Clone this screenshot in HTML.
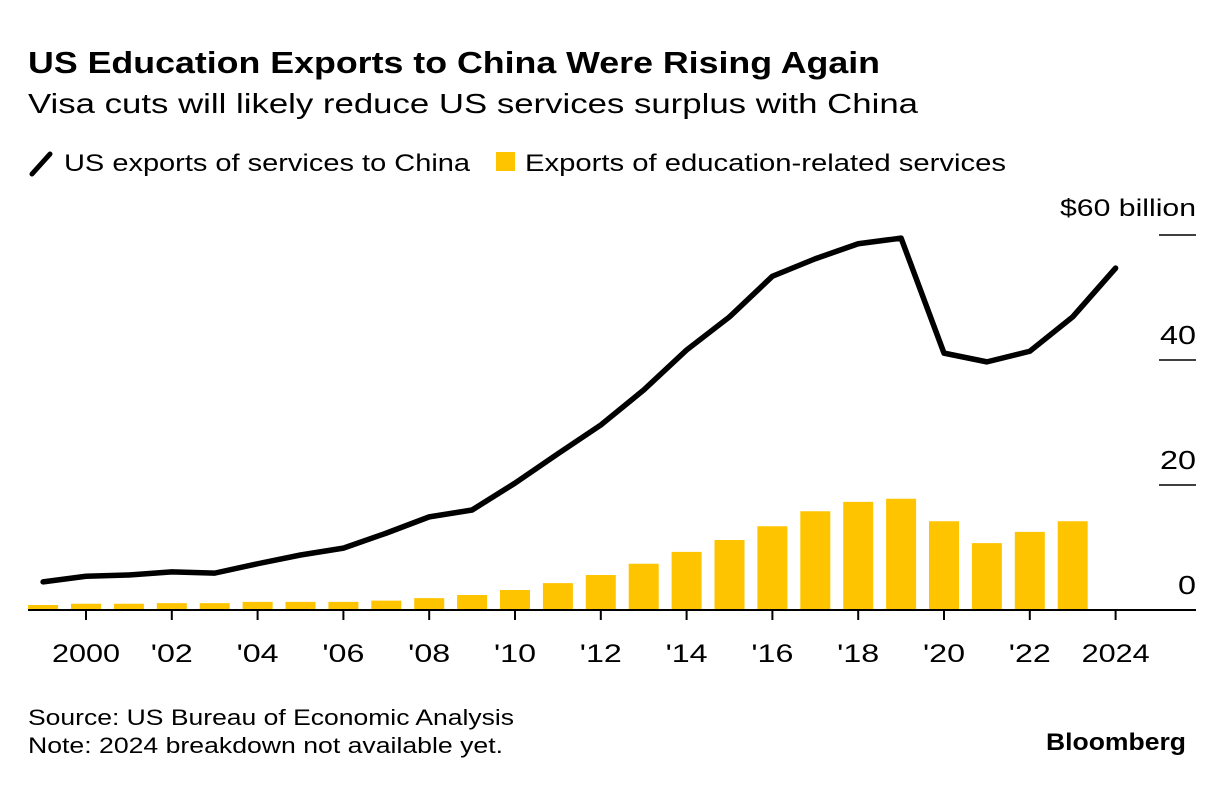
<!DOCTYPE html>
<html><head><meta charset="utf-8"><style>
body{margin:0;background:#fff;width:1224px;height:784px;overflow:hidden;font-family:"Liberation Sans",sans-serif;color:#000}
</style></head><body>
<svg width="1224" height="784" xmlns="http://www.w3.org/2000/svg" font-family="Liberation Sans, sans-serif">
<text x="28" y="73" font-size="31" font-weight="bold" textLength="852" lengthAdjust="spacingAndGlyphs">US Education Exports to China Were Rising Again</text>
<text x="28" y="113" font-size="28" textLength="890" lengthAdjust="spacingAndGlyphs">Visa cuts will likely reduce US services surplus with China</text>
<g>
<line x1="32" y1="174" x2="50" y2="154" stroke="#000" stroke-width="5" stroke-linecap="round"/>
<text x="64" y="171" font-size="24" textLength="406" lengthAdjust="spacingAndGlyphs">US exports of services to China</text>
<rect x="496" y="152" width="19" height="19" fill="#ffc400"/>
<text x="525" y="171" font-size="24" textLength="481" lengthAdjust="spacingAndGlyphs">Exports of education-related services</text>
</g>
<g id="grid"></g><g id="bars"></g><g id="line"></g><g id="xaxis"></g>
<text x="1060" y="216" font-size="24" textLength="136" lengthAdjust="spacingAndGlyphs">$60 billion</text>
<text x="28" y="725" font-size="22" textLength="486" lengthAdjust="spacingAndGlyphs">Source: US Bureau of Economic Analysis</text>
<text x="28" y="753" font-size="22" textLength="475" lengthAdjust="spacingAndGlyphs">Note: 2024 breakdown not available yet.</text>
<text x="1046" y="750" font-size="24" font-weight="bold" textLength="140" lengthAdjust="spacingAndGlyphs">Bloomberg</text>
</svg>
<script>
const years=[1999,2000,2001,2002,2003,2004,2005,2006,2007,2008,2009,2010,2011,2012,2013,2014,2015,2016,2017,2018,2019,2020,2021,2022,2023,2024];
const servicesValues=[4.5,5.4,5.6,6.1,5.9,7.4,8.8,9.9,12.3,14.9,16,20.3,25,29.6,35.2,41.6,46.9,53.4,56.2,58.6,59.5,41.1,39.7,41.4,46.9,54.7];
const barYears=[1999,2000,2001,2002,2003,2004,2005,2006,2007,2008,2009,2010,2011,2012,2013,2014,2015,2016,2017,2018,2019,2020,2021,2022,2023];
const educationValues=[0.8,1,1,1.1,1.1,1.3,1.3,1.3,1.5,1.9,2.4,3.2,4.3,5.6,7.4,9.3,11.2,13.4,15.8,17.3,17.8,14.2,10.7,12.5,14.2];
const yTicks=[0,20,40,60];
const yTickLabels=["0","20","40",""];
const xTicks=[2000,2002,2004,2006,2008,2010,2012,2014,2016,2018,2020,2022,2024];
const xTickLabels=["2000","'02","'04","'06","'08","'10","'12","'14","'16","'18","'20","'22","2024"];
const NS="http://www.w3.org/2000/svg";
const x=yr=>86+(yr-2000)*42.9;
const y=v=>610-v*6.25;
function mk(tag,attrs,parent){const e=document.createElementNS(NS,tag);for(const k in attrs)e.setAttribute(k,attrs[k]);document.getElementById(parent).appendChild(e);return e;}
yTicks.forEach((t,i)=>{
 if(t>0){const l=mk('line',{x1:1159,x2:1196,y1:y(t),y2:y(t),stroke:'#000','stroke-width':1.5},'grid');
 
 }
 if(yTickLabels[i]){const tx=mk('text',{x:1196,y:y(t)-16,'font-size':26,'text-anchor':'end',textLength:yTickLabels[i].length*18,lengthAdjust:'spacingAndGlyphs'},'grid');tx.textContent=yTickLabels[i];
 
 }
});
barYears.forEach((yr,i)=>{
 const r=mk('rect',{x:x(yr)-15,width:30,y:y(educationValues[i]),height:y(0)-y(educationValues[i]),fill:'#ffc400'},'bars');
 
 
});
const p=mk('polyline',{points:years.map((yr,i)=>x(yr)+','+y(servicesValues[i])).join(' '),fill:'none',stroke:'#000','stroke-width':5.5,'stroke-linejoin':'round','stroke-linecap':'round'},'line');


const b=mk('line',{x1:28,x2:1196,y1:y(0),y2:y(0),stroke:'#000','stroke-width':2},'xaxis');


xTicks.forEach((t,i)=>{
 const l=mk('line',{x1:x(t),x2:x(t),y1:y(0),y2:y(0)+10,stroke:'#000','stroke-width':2},'xaxis');
 
 
 const w=xTickLabels[i].length===4?68:42;
 const tx=mk('text',{x:x(t),y:662,'font-size':25,'text-anchor':'middle',textLength:w,lengthAdjust:'spacingAndGlyphs'},'xaxis');tx.textContent=xTickLabels[i];
 
 
});
</script>
</body></html>
